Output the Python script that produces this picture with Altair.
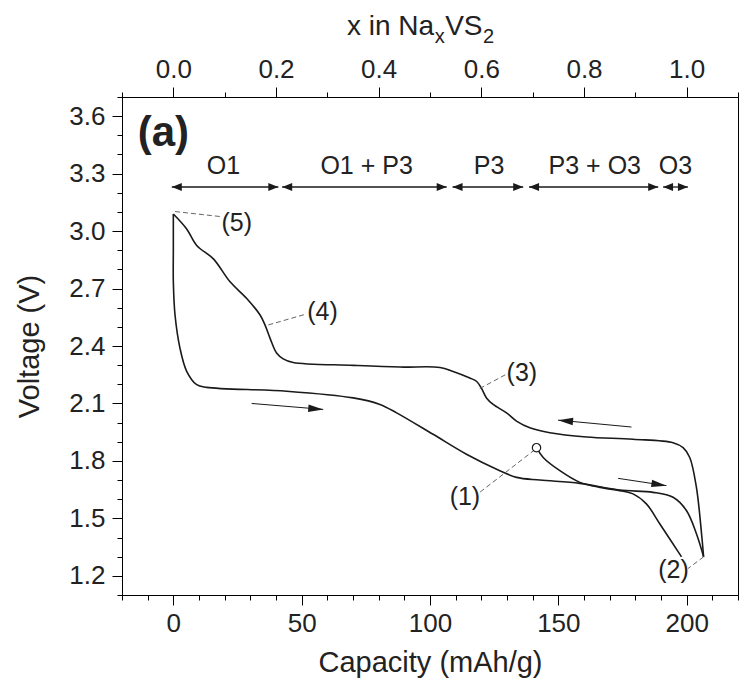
import math
import altair as alt
import pandas as pd

# ---------------- data ----------------
# first discharge, starting at the open circle (1)
first_cap = [141.5, 144.1, 150.6, 158.4, 166.2, 173.9, 179.1, 184.3, 189.5, 198.0]
first_v = [1.869, 1.818, 1.749, 1.688, 1.662, 1.645, 1.628, 1.576, 1.472, 1.299]

# charge: from (2) up and leftwards to (5)
charge_cap = [206.6, 205.8, 203.8, 201.2, 198.6, 194.7, 179.1, 161.0, 146.7, 138.9,
              133.7, 129.8, 124.6, 122.0, 120.1, 118.1, 115.5, 109.0, 103.9, 88.3,
              70.1, 46.7, 42.8, 40.3, 37.7, 35.7, 33.8, 28.6, 22.1, 15.6, 9.1, 5.2, 0.0]
charge_v = [1.299, 1.420, 1.662, 1.818, 1.869, 1.895, 1.913, 1.925, 1.947, 1.973,
            2.008, 2.051, 2.095, 2.129, 2.178, 2.216, 2.233, 2.267, 2.288, 2.290,
            2.299, 2.314, 2.333, 2.362, 2.440, 2.510, 2.562, 2.648, 2.735, 2.855, 2.925, 3.011, 3.089]

# discharge: from (5) down and rightwards to (2)
dis_cap = [0.0, 0.0, 0.0, 0.66, 2.6, 5.2, 9.1, 13.0, 44.2, 70.1, 80.5, 87.0, 101.2,
           114.2, 127.2, 133.7, 142.8, 158.4, 173.9, 186.9, 194.7, 199.9, 203.8, 206.6]
dis_v = [3.089, 2.900, 2.735, 2.562, 2.388, 2.268, 2.198, 2.184, 2.164, 2.129, 2.095, 2.051, 1.939,
         1.835, 1.749, 1.714, 1.700, 1.683, 1.648, 1.636, 1.610, 1.541, 1.420, 1.299]

# open circle (start point)
start_cap = [141.5]
start_v = [1.869]

# phase regions (double arrows)
phase_names = ["O1", "O1 + P3", "P3", "P3 + O3", "O3"]
phase_start = [-0.6, 42.4, 108.8, 138.6, 190.8]
phase_end = [40.9, 106.5, 136.3, 188.9, 200.5]
phase_label_cap = [19.5, 75.3, 123.0, 164.2, 195.6]
phase_arrow_v = 3.23
phase_label_v = 3.297

# numbered points with dashed leaders
num_labels = ["(5)", "(4)", "(3)", "(1)", "(2)"]
num_label_cap = [24.7, 58.1, 135.8, 113.6, 194.9]
num_label_v = [3.001, 2.538, 2.218, 1.569, 1.189]
lead_cap1 = [0.66, 37.0, 119.4, 140.8, 206.6]
lead_v1 = [3.102, 2.510, 2.178, 1.858, 1.299]
lead_cap2 = [18.2, 51.3, 129.8, 119.4, 200.5]
lead_v2 = [3.076, 2.565, 2.253, 1.636, 1.238]

# direction arrows
dir_cap1 = [30.5, 178.5, 173.3]
dir_v1 = [2.100, 1.977, 1.709]
dir_cap2 = [58.4, 149.9, 192.1]
dir_v2 = [2.069, 2.013, 1.671]

# axis ticks
cap_major = [0, 50, 100, 150, 200]
cap_minor = [-20, -10, 10, 20, 30, 40, 60, 70, 80, 90, 110, 120, 130, 140,
             160, 170, 180, 190, 210, 220]
top_major = [0, 40, 80, 120, 160, 200]          # x = 0.0 ... 1.0 (x = cap / 200)
top_minor = [-20, 20, 60, 100, 140, 180, 220]   # x = -0.1, 0.1, ... 1.1
v_major = [1.2, 1.5, 1.8, 2.1, 2.4, 2.7, 3.0, 3.3, 3.6]
v_minor = [1.1, 1.3, 1.4, 1.6, 1.7, 1.9, 2.0, 2.2, 2.3, 2.5, 2.6, 2.8, 2.9,
           3.1, 3.2, 3.4, 3.5, 3.7]

# ---------------- layout ----------------
W, H = 616, 498
X_DOM = [-20, 220]
Y_DOM = [1.1, 3.7]
FONT = "Liberation Sans"
INK = "#1a1a1a"
TXT = "#222222"

xscale = alt.Scale(domain=X_DOM, nice=False, zero=False)
yscale = alt.Scale(domain=Y_DOM, nice=False, zero=False)

common = dict(labelOverlap=False, labelFlush=False, grid=False)
bottom_major = alt.Axis(orient="bottom", values=cap_major, format="d", tickSize=10,
                        labelPadding=5, title="Capacity (mAh/g)", titlePadding=12, **common)
bottom_minor = alt.Axis(orient="bottom", values=cap_minor, tickSize=5, labels=False,
                        title=None, domain=False, **common)
top_major_ax = alt.Axis(orient="top", values=top_major, tickSize=10,
                        labelExpr="format(datum.value / 200, '.1f')",
                        labelPadding=5, title=None, **common)
top_minor_ax = alt.Axis(orient="top", values=top_minor, tickSize=5, labels=False,
                        title=None, domain=False, **common)
left_major = alt.Axis(orient="left", values=v_major, format=".1f", tickSize=10,
                      labelPadding=7, title="Voltage (V)", titlePadding=24, **common)
left_minor = alt.Axis(orient="left", values=v_minor, tickSize=5, labels=False,
                      title=None, domain=False, **common)

# ---------------- tables ----------------
rows = []
for name, cs, vs in [("first", first_cap, first_v), ("charge", charge_cap, charge_v),
                     ("discharge", dis_cap, dis_v)]:
    for i, (c, v) in enumerate(zip(cs, vs)):
        rows.append({"s": name, "i": i, "cap": c, "V": v})
curves_df = pd.DataFrame(rows)

start_df = pd.DataFrame({"cap": start_cap, "V": start_v})
phase_df = pd.DataFrame({"name": phase_names, "c1": phase_start, "c2": phase_end,
                         "lc": phase_label_cap, "va": phase_arrow_v, "vl": phase_label_v})
num_df = pd.DataFrame({"t": num_labels, "lc": num_label_cap, "lv": num_label_v,
                       "c1": lead_cap1, "v1": lead_v1, "c2": lead_cap2, "v2": lead_v2})

kx = W / (X_DOM[1] - X_DOM[0])
ky = H / (Y_DOM[1] - Y_DOM[0])
dir_ang = [math.degrees(math.atan2(-(b2 - b1) * ky, (a2 - a1) * kx))
           for a1, b1, a2, b2 in zip(dir_cap1, dir_v1, dir_cap2, dir_v2)]
dir_df = pd.DataFrame({"c1": dir_cap1, "v1": dir_v1, "c2": dir_cap2, "v2": dir_v2, "ang": dir_ang})


def X(field, axis=None):
    return alt.X(field, type="quantitative", scale=xscale, axis=axis)


def Y(field, axis=None):
    return alt.Y(field, type="quantitative", scale=yscale, axis=axis)


HEAD_PHASE = "M0,0 L-2,-0.8 L-2,0.8 Z"
HEAD_DIR = "M0,0 L-2,-0.5 L-2,0.5 Z"

curves = alt.Chart(curves_df).mark_line(
    color=INK, strokeWidth=1.6, interpolate="catmull-rom"
).encode(
    x=X("cap", bottom_major), y=Y("V", left_major), detail="s:N", order="i:Q"
)

start_pt = alt.Chart(start_df).mark_point(
    shape="circle", size=70, filled=True, fill="white", stroke=INK, strokeWidth=1.2, opacity=1
).encode(x=X("cap"), y=Y("V"))

phase_base = alt.Chart(phase_df)
phase_lines = phase_base.mark_rule(color=INK, strokeWidth=1.3).encode(
    x=X("c1", top_major_ax), x2="c2", y=Y("va"))
phase_head_r = phase_base.mark_point(
    shape=HEAD_PHASE, size=100, filled=True, color=INK, opacity=1, strokeWidth=0
).encode(x=X("c2", top_minor_ax), y=Y("va"))
phase_head_l = phase_base.mark_point(
    shape=HEAD_PHASE, size=100, filled=True, color=INK, opacity=1, strokeWidth=0, angle=180
).encode(x=X("c1"), y=Y("va"))
phase_text = phase_base.mark_text(
    font=FONT, fontSize=25, color=TXT, align="center", baseline="alphabetic"
).encode(x=X("lc"), y=Y("vl"), text="name:N")

num_base = alt.Chart(num_df)
leaders = num_base.mark_rule(color="#666666", strokeWidth=1, strokeDash=[5, 3]).encode(
    x=X("c1", bottom_minor), y=Y("v1", left_minor), x2="c2", y2="v2")
num_text = num_base.mark_text(
    font=FONT, fontSize=25, color=TXT, align="center", baseline="alphabetic"
).encode(x=X("lc"), y=Y("lv"), text="t:N")

dir_base = alt.Chart(dir_df)
dir_lines = dir_base.mark_rule(color=INK, strokeWidth=1).encode(
    x=X("c1"), y=Y("v1"), x2="c2", y2="v2")
dir_heads = dir_base.mark_point(
    shape=HEAD_DIR, size=225, filled=True, color=INK, opacity=1, strokeWidth=0
).encode(x=X("c2"), y=Y("v2"), angle=alt.Angle("ang:Q", scale=None))

panel_df = pd.DataFrame({"t": ["(a)"], "cap": [-3.9], "V": [3.445]})
panel_text = alt.Chart(panel_df).mark_text(
    font=FONT, fontSize=42, fontWeight="bold", color=TXT, align="center", baseline="alphabetic"
).encode(x=X("cap"), y=Y("V"), text="t:N")

# top title "x in Na_x VS_2" built from pieces (Arial-metric widths)
AW = {"x": 0.5, " ": 0.278, "i": 0.222, "n": 0.556, "N": 0.722, "a": 0.556,
      "V": 0.667, "S": 0.667, "2": 0.556}
pieces = [("x in Na", 28, 0), ("x", 20, 8), ("VS", 28, 0), ("2", 20, 8)]
title_layers = []
px = 225.0
for txt, fs, dy in pieces:
    title_layers.append(
        alt.Chart(pd.DataFrame({"t": [txt]})).mark_text(
            font=FONT, fontSize=fs, color=TXT, align="left", baseline="alphabetic"
        ).encode(x=alt.value(px), y=alt.value(-62 + dy), text="t:N")
    )
    px += sum(AW[ch] for ch in txt) * fs + 0.5

chart = alt.layer(
    curves, leaders, phase_lines, phase_head_r, phase_head_l, phase_text,
    num_text, dir_lines, dir_heads, start_pt, panel_text, *title_layers
).resolve_axis(x="independent", y="independent").properties(
    width=W, height=H,
    padding={"left": 122, "top": 97, "right": 1, "bottom": 86},
    autosize=alt.AutoSizeParams(type="none"),
    background="white",
).configure_view(
    stroke="black", strokeWidth=1
).configure_axis(
    domainColor="black", tickColor="black", tickWidth=1, domainWidth=1,
    labelColor=TXT, titleColor=TXT, labelFont=FONT, titleFont=FONT,
    labelFontSize=26, titleFontSize=29, titleFontWeight="normal",
)

chart.save("out.html", embed_options={"renderer": "svg", "actions": False})
